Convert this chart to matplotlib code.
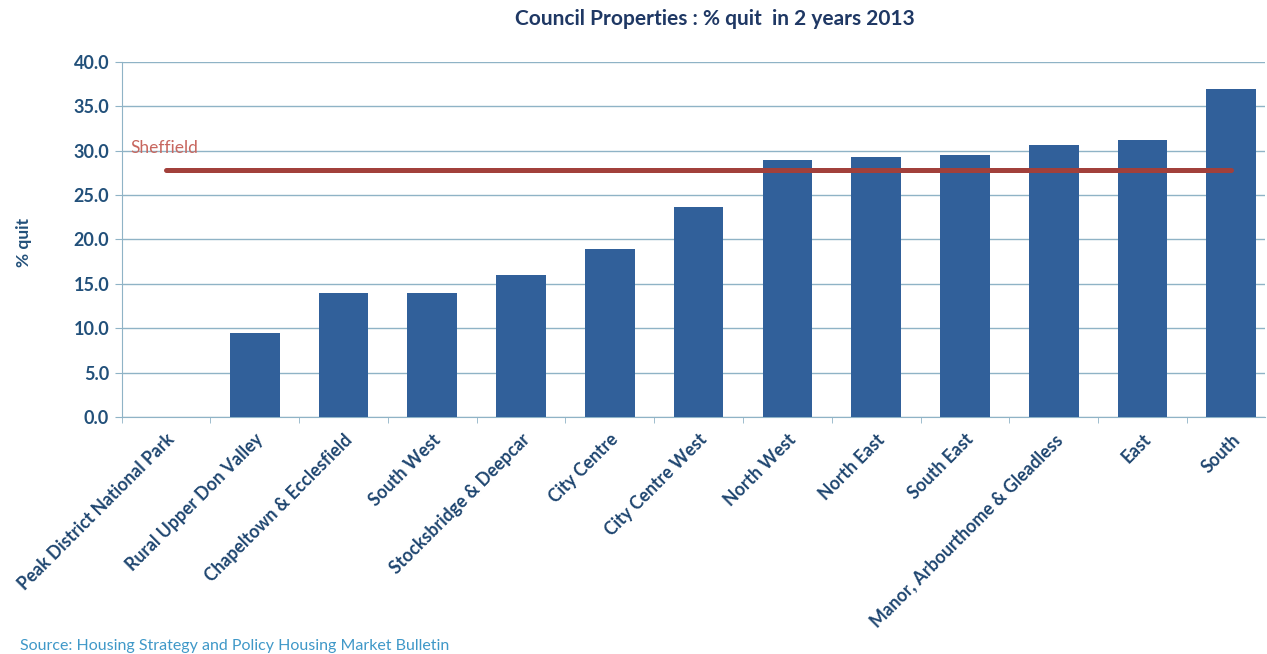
import matplotlib.pyplot as plt
import numpy as np

# Chart data
areas = ['Peak District National Park', 'Rural Upper Don Valley', 'Chapeltown & Ecclesfield',
         'South West', 'Stocksbridge & Deepcar', 'City Centre', 'City Centre West',
         'North West', 'North East', 'South East', 'Manor, Arbourthome & Gleadless',
         'East', 'South']
pct_quit = [0.0, 9.5, 14.0, 14.0, 16.0, 18.9, 23.7, 29.0, 29.3, 29.5, 30.6, 31.2, 37.0]
sheffield = 27.8
yticks = [0, 5, 10, 15, 20, 25, 30, 35, 40]

plt.rcParams['font.family'] = ['Lato', 'DejaVu Sans']

fig = plt.figure(figsize=(12.67, 6.54), dpi=100)
ax = fig.add_axes([121.6 / 1267, 1 - 417 / 654, (1265 - 121.6) / 1267, (417 - 62) / 654])

x = np.arange(len(areas))
ax.bar(x, pct_quit, width=0.56, color='#31609A', zorder=3)
ax.plot(x, [sheffield] * len(areas), color='#A2403B', linewidth=3.6,
        solid_capstyle='round', zorder=4)
ax.text(-0.4, 29.4, 'Sheffield', color='#C8675F', fontsize=12.5, va='bottom', ha='left')

ax.set_xlim(-0.5, 12.38)
ax.set_ylim(0, 40)
ax.set_yticks(yticks)
ax.set_yticklabels(['%.1f' % v for v in yticks], fontsize=13, fontweight='bold', color='#22507A')
ax.yaxis.grid(True, color='#8FB3C6', linewidth=1.0, zorder=0)
ax.tick_params(axis='y', length=5, color='#8FB3C6', pad=4)

ax.set_xticks(x)
ax.set_xticklabels(areas, rotation=45, ha='right', rotation_mode='anchor',
                   fontsize=12.7, fontweight='bold', color='#1F4670')
ax.set_xticks(np.arange(-0.5, 12.5, 1), minor=True)
ax.tick_params(axis='x', which='major', length=0, pad=10)
ax.tick_params(axis='x', which='minor', length=4, color='#8FB3C6')

for s in ['top', 'right']:
    ax.spines[s].set_visible(False)
for s in ['left', 'bottom']:
    ax.spines[s].set_color('#8FB3C6')

fig.text(24 / 1267, 1 - 242 / 654, '% quit', rotation=90, ha='center', va='center',
         fontsize=12.5, fontweight='bold', color='#22507A')

fig.text(715 / 1267, 1 - 19 / 654, 'Council Properties : % quit  in 2 years 2013',
         ha='center', va='center', fontsize=15, fontweight='bold', color='#1F3864')
fig.text(20 / 1267, 1 - 646 / 654, 'Source: Housing Strategy and Policy Housing Market Bulletin',
         ha='left', va='center', fontsize=11.5, color='#3F98C8')

fig.savefig('out.png', dpi=100)
